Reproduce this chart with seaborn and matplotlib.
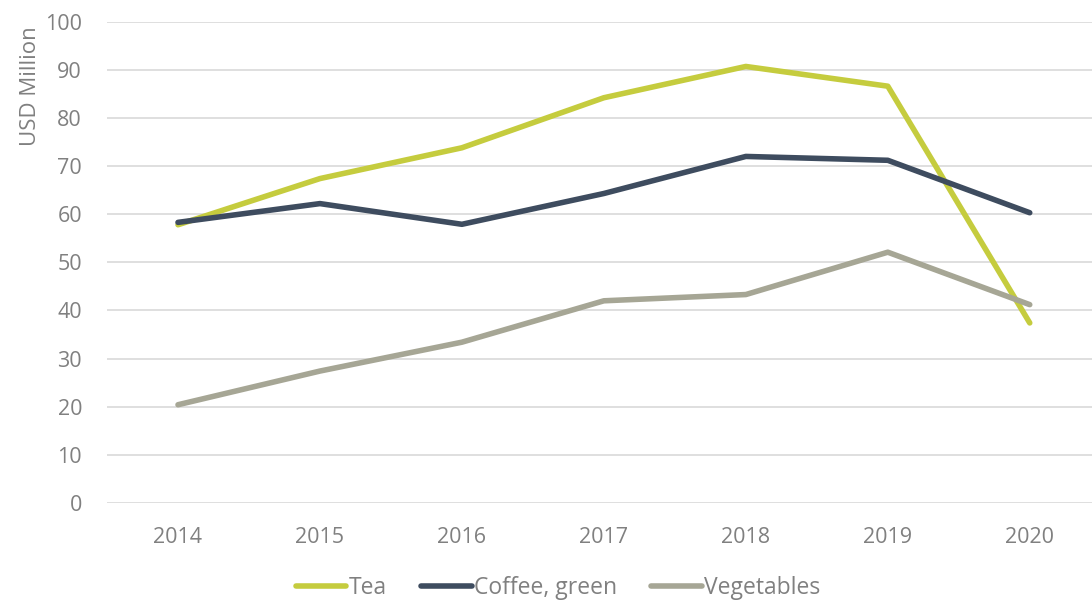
import pandas as pd
import seaborn as sns
import matplotlib.pyplot as plt

years = ["2014", "2015", "2016", "2017", "2018", "2019", "2020"]
tea = [57.8, 67.4, 73.8, 84.2, 90.7, 86.6, 37.4]
coffee = [58.3, 62.2, 57.9, 64.3, 72.0, 71.2, 60.3]
vegetables = [20.4, 27.4, 33.4, 42.0, 43.3, 52.1, 41.2]

series = ["Tea", "Coffee, green", "Vegetables"]
colors = ["#c5cc3e", "#3e4c5f", "#a6a695"]

df = pd.DataFrame({"Year": years * 3,
                   "Value": tea + coffee + vegetables,
                   "Series": [s for s in series for _ in years]})

sns.set_style("white")
plt.rcParams['font.family'] = ['Open Sans', 'DejaVu Sans']
grey = "#808080"

fig = plt.figure(figsize=(10.92, 6.03), dpi=100)
ax = fig.add_axes([0.098, 0.166, 0.91, 0.798])

sns.lineplot(data=df, x="Year", y="Value", hue="Series", palette=colors,
             linewidth=4, sort=False, ax=ax, legend=True)

ax.set_xlim(-0.5, 6.5)
ax.set_ylim(0, 100)
ax.set_yticks(range(0, 101, 10))
ax.yaxis.grid(True, color="#d9d9d9", linewidth=1.2)
ax.set_axisbelow(True)
for s in ax.spines.values():
    s.set_visible(False)
ax.tick_params(axis="both", length=0, labelsize=15.5, labelcolor=grey)
ax.tick_params(axis="y", pad=18)
ax.tick_params(axis="x", pad=17)
ax.set_xlabel("")
ax.set_ylabel("USD Million", fontsize=16, color=grey, loc="top")
ax.yaxis.set_label_coords(-0.066, 0.99)

h, l = ax.get_legend_handles_labels()
ax.legend(h, l, loc="center", bbox_to_anchor=(0.454, -0.177),
          ncol=3, frameon=False, fontsize=16.5, labelcolor=grey,
          handlelength=2.2, handletextpad=0.1, columnspacing=1.5,
          borderpad=0.1)

fig.savefig("out.png", dpi=100)
